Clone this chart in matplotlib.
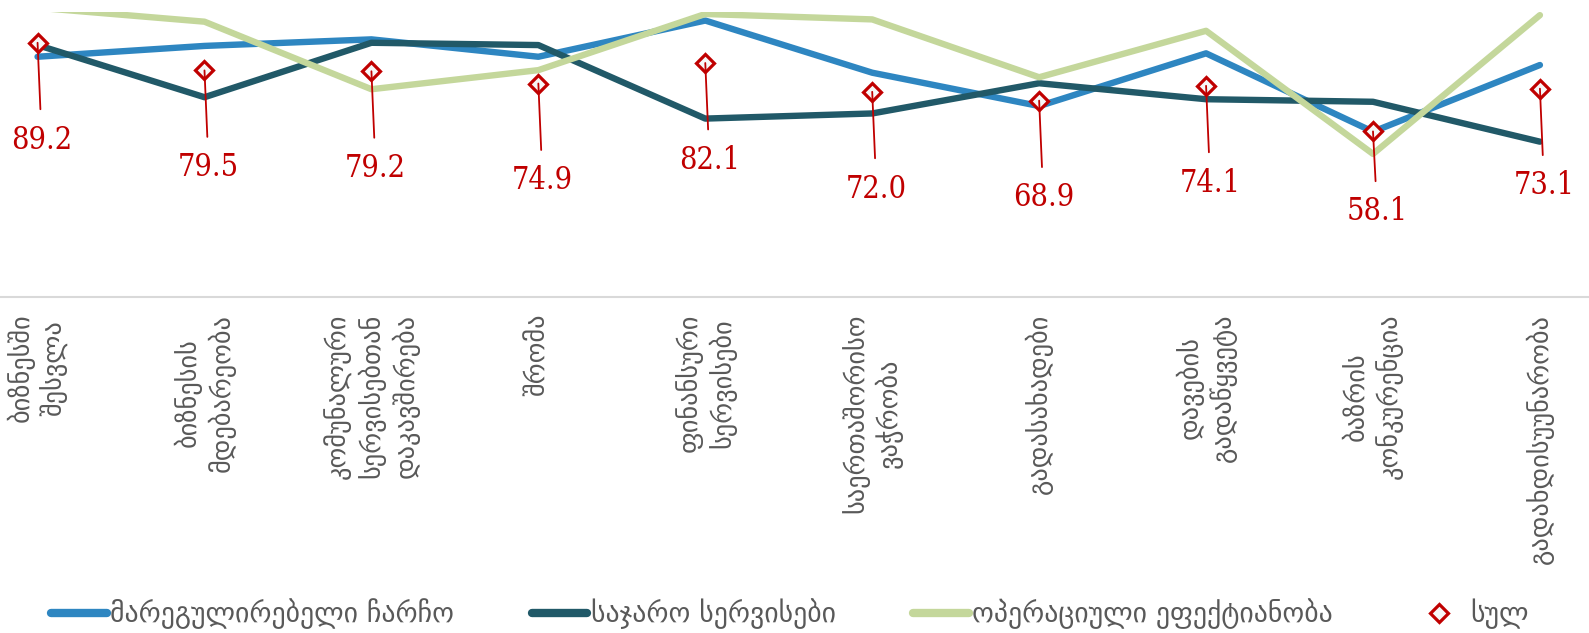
import matplotlib
matplotlib.use('Agg')
from matplotlib import pyplot as plt
from matplotlib.lines import Line2D

categories = ['ბიზნესში\nშესვლა',
              'ბიზნესის\nმდებარეობა',
              'კომუნალური\nსერვისებთან\nდაკავშირება',
              'შრომა',
              'ფინანსური\nსერვისები',
              'საერთაშორისო\nვაჭრობა',
              'გადასახადები',
              'დავების\nგადაწყვეტა',
              'ბაზრის\nკონკურენცია',
              'გადახდისუუნარობა']

regulatory = [84.3, 88.1, 90.4, 84.3, 97.0, 78.7, 67.0, 85.5, 58.0, 81.4]
public_services = [88.4, 70.1, 89.2, 88.4, 62.6, 64.4, 75.0, 69.4, 68.5, 54.5]
operational = [101.5, 96.6, 72.9, 79.6, 99.3, 97.4, 77.1, 93.4, 50.2, 98.9]
total = [89.2, 79.5, 79.2, 74.9, 82.1, 72.0, 68.9, 74.1, 58.1, 73.1]

series_names = ['მარეგულირებელი ჩარჩო', 'საჯარო სერვისები',
                'ოპერაციული ეფექტიანობა', 'სულ']

blue = '#2E86C1'
teal = '#215968'
green = '#C4D79B'
red = '#C00000'
grey = '#595959'

fig = plt.figure(figsize=(15.89, 6.33), dpi=100)
ax = fig.add_axes([0, 1 - 297 / 633, 1, (297 - 12) / 633])

x = list(range(len(categories)))
lw = 4.6
ax.plot(x, regulatory, color=blue, lw=lw, solid_capstyle='round', solid_joinstyle='round')
ax.plot(x, public_services, color=teal, lw=lw, solid_capstyle='round', solid_joinstyle='round')
ax.plot(x, operational, color=green, lw=lw, solid_capstyle='round', solid_joinstyle='round')
ax.plot(x, total, ls='none', marker='D', ms=9.5, mfc='#F7F7F7', mec=red, mew=2.3, zorder=5)

# labels hang under the markers on a thin leader line
for i, v in enumerate(total):
    dy = -58 if v < 60 else -70
    ax.annotate(f'{v:.1f}', xy=(i, v), xytext=(3, dy), textcoords='offset points',
                ha='center', va='center', color=red, fontsize=22,
                family='DejaVu Serif', fontstretch='condensed',
                arrowprops=dict(arrowstyle='-', color=red, lw=1.3,
                                shrinkA=9, shrinkB=0),
                zorder=6)

ax.set_xlim(-0.225, 9.294)
ax.set_ylim(0, 100)
ax.set_yticks([])
ax.set_xticks(x)
ax.set_xticklabels(categories, rotation=90, va='top', ha='center',
                   multialignment='center', color=grey, fontsize=19,
                   family='DejaVu Sans', linespacing=1.25)
ax.tick_params(axis='x', length=0, pad=12)
for s in ['top', 'right', 'left']:
    ax.spines[s].set_visible(False)
ax.spines['bottom'].set_color('#D9D9D9')
ax.spines['bottom'].set_linewidth(1.5)

handles = [Line2D([], [], color=blue, lw=6, solid_capstyle='round'),
           Line2D([], [], color=teal, lw=6, solid_capstyle='round'),
           Line2D([], [], color=green, lw=6, solid_capstyle='round'),
           Line2D([], [], ls='none', marker='D', ms=9.5, mfc='#F7F7F7', mec=red, mew=2.3)]
leg = fig.legend(handles, series_names, loc='center', bbox_to_anchor=(0.497, 1 - 614 / 633),
                 ncol=4, frameon=False, fontsize=20, handlelength=2.0,
                 handletextpad=0.12, columnspacing=2.8)
for t in leg.get_texts():
    t.set_color(grey)

fig.savefig('out.png', dpi=100)
